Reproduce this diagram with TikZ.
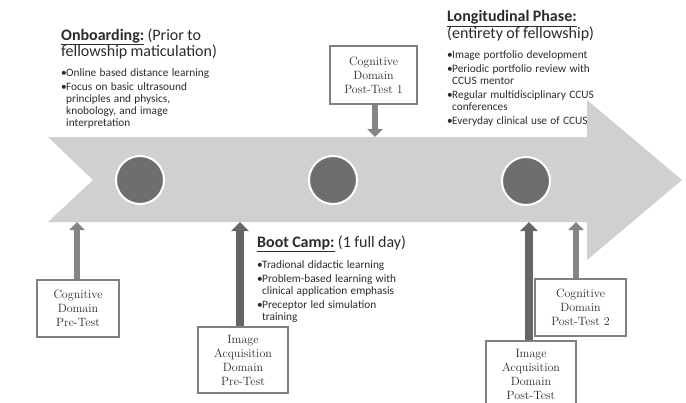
\documentclass[tikz,border=0pt]{standalone}
\usepackage{fontspec}
\newfontfamily\sansf{Carlito}
\usetikzlibrary{arrows.meta}
\definecolor{bodygray}{HTML}{D0D0D0}
\definecolor{dotgray}{HTML}{6E6E6E}
\definecolor{boxline}{HTML}{808080}
\definecolor{txt}{HTML}{2B2B2B}
\definecolor{arrowmid}{HTML}{858585}
\definecolor{arrowdark}{HTML}{666666}
\newcommand\bitem[1]{\par\hangindent=5pt\hangafter=1\noindent\makebox[5pt][l]{\textbullet}#1\par}
\newcommand\headf{\fontsize{16}{16.5}\selectfont}
\newcommand\bulf{\fontsize{11.3}{12}\selectfont}
\tikzset{
  testbox/.style={draw=boxline, line width=1.8pt, fill=white, text=txt, align=center,
    font=\fontsize{12}{14}\selectfont, inner sep=0pt},
  textblock/.style={anchor=north west, inner sep=0pt, text=txt, text width=190pt, align=left, font=\sansf},
  thinarrow/.style={arrowmid, line width=5.5pt, -{Triangle[width=15pt,length=8pt]}},
  thickarrow/.style={arrowdark, line width=8.5pt, -{Triangle[width=17pt,length=9pt]}},
  dot/.style={circle, fill=dotgray, draw=white, line width=2pt, minimum size=48pt, inner sep=0pt}
}
\begin{document}
\begin{tikzpicture}[x=1pt,y=-1pt]
\useasboundingbox (0,0) rectangle (686,402);
\clip (0,0) rectangle (686,402);
% main timeline arrow
\fill[bodygray] (48,137) -- (587,137) -- (587,100) -- (682,180) -- (587,260) -- (587,222) -- (48,222) -- (93,180) -- cycle;
\coordinate (bodybot) at (0,222);
\coordinate (bodytop) at (0,137);
% milestones
\node[dot] (d1) at (140,180) {};
\node[dot] (d2) at (333,180) {};
\node[dot] (d3) at (526,181) {};
% test boxes
\node[testbox, minimum width=82pt, minimum height=57pt] (cpre) at (78,308.5) {Cognitive\\Domain\\Pre-Test};
\node[testbox, minimum width=90pt, minimum height=66pt] (iapre) at (243,360) {Image\\Acquisition\\Domain\\Pre-Test};
\node[testbox, minimum width=87pt, minimum height=58pt] (cpost1) at (373.5,75) {Cognitive\\Domain\\Post-Test 1};
\node[testbox, minimum width=91pt, minimum height=57pt] (cpost2) at (580.5,307.5) {Cognitive\\Domain\\Post-Test 2};
\node[testbox, minimum width=90pt, minimum height=67pt] (iapost) at (531,374.5) {Image\\Acquisition\\Domain\\Post-Test};
% connectors
\draw[thinarrow] ([xshift=-1pt]cpre.north) -- ([xshift=-1pt]cpre.north |- bodybot);
\draw[thickarrow] ([xshift=-3pt]iapre.north) -- ([xshift=-3pt]iapre.north |- bodybot);
\draw[thinarrow] ([xshift=1.5pt]cpost1.south) -- ([xshift=1.5pt]cpost1.south |- bodytop);
\draw[thickarrow] ([xshift=-2pt]iapost.north) -- ([xshift=-2pt]iapost.north |- bodybot);
\draw[thinarrow] ([xshift=-4.5pt]cpost2.north) -- ([xshift=-4.5pt]cpost2.north |- bodybot);
% text blocks
\node[textblock] (onb) at (61,28.5) {\setlength\parskip{2pt}%
{\headf\underline{\textbf{Onboarding:}} (Prior to\\fellowship maticulation)\par}\vspace{6pt}%
{\bulf\bitem{Online based distance learning}%
\bitem{Focus on basic ultrasound\newline principles and physics,\newline knobology, and image\newline interpretation}}};
\node[textblock] (lon) at (447,10.5) {\setlength\parskip{2pt}%
{\headf\underline{\textbf{Longitudinal Phase:}}\\(entirety of fellowship)\par}\vspace{6pt}%
{\bulf\bitem{Image portfolio development}%
\bitem{Periodic portfolio review with\newline CCUS mentor}%
\bitem{Regular multidisciplinary CCUS\newline conferences}%
\bitem{Everyday clinical use of CCUS}}};
\node[textblock] (boot) at (257,235.5) {\setlength\parskip{2pt}%
{\headf\underline{\textbf{Boot Camp:}} (1 full day)\par}\vspace{6pt}%
{\bulf\bitem{Tradional didactic learning}%
\bitem{Problem-based learning with\newline clinical application emphasis}%
\bitem{Preceptor led simulation\newline training}}};
\end{tikzpicture}
\end{document}
